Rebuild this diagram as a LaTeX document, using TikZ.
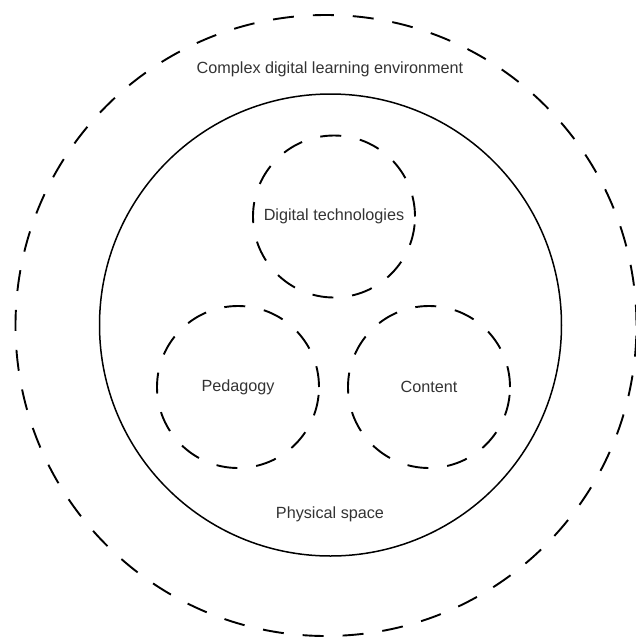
\documentclass[tikz,border=0pt]{standalone}
\usepackage{fontspec}
\setmainfont{Liberation Sans}
\begin{document}
\begin{tikzpicture}[x=1pt,y=-1pt,
  ring/.style={circle,draw=black,line width=1.9pt,dash pattern=on 21pt off 19pt,inner sep=0pt,minimum size=#1},
  solidring/.style={circle,draw=black,line width=1.5pt,inner sep=0pt,minimum size=#1},
  lbl/.style={text=black!80,font=\fontsize{16.2}{19}\selectfont,inner sep=0pt}]
  \useasboundingbox (0,0) rectangle (636,641);
  % environment layers
  \node[ring=621pt] (env) at (326,325.5) {};
  \node[solidring=462pt] (space) at (330.5,325) {};
  % three components
  \node[ring=162pt,lbl] (tech) at (334,216.5) {Digital technologies};
  \node[ring=162pt,lbl] (ped) at (238,387) {Pedagogy};
  \node[ring=162pt,lbl] (cont) at (429,387) {Content};
  % layer captions
  \node[lbl] (envlbl) at (330,69) {Complex digital learning environment};
  \node[lbl] (spacelbl) at (330,514) {Physical space};
\end{tikzpicture}
\end{document}
